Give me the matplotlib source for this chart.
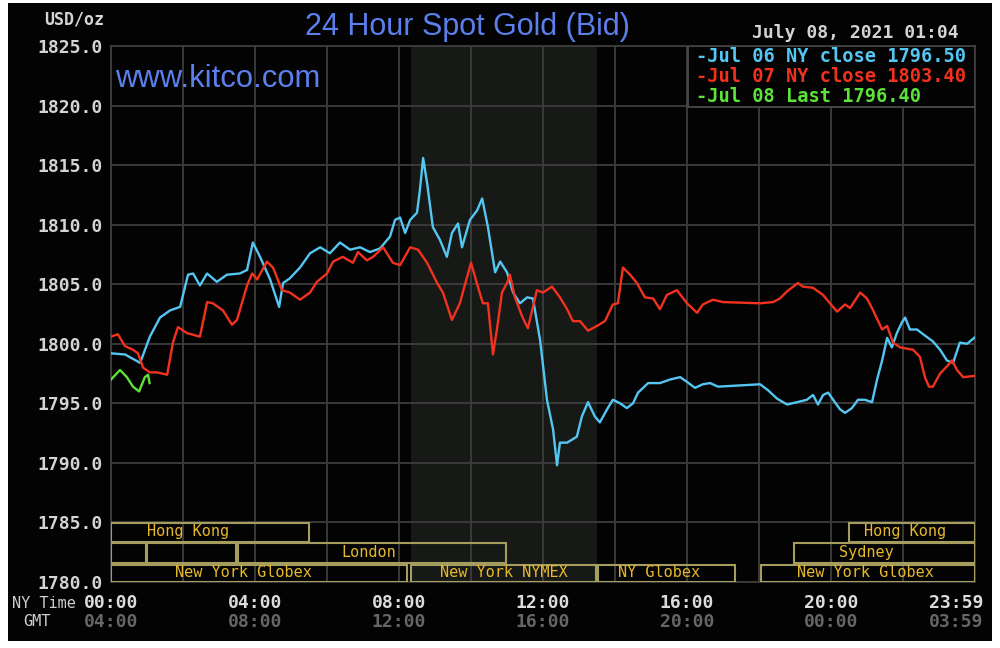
import matplotlib
matplotlib.use("Agg")
import matplotlib.pyplot as plt
from matplotlib.patches import Rectangle
from matplotlib.transforms import blended_transform_factory

# ---------------- data ----------------
jul06_hours = [0.0, 0.39, 0.81, 1.08, 1.36, 1.64, 1.92, 2.14, 2.28, 2.47, 2.67, 2.94, 3.22, 3.58,
               3.78, 3.94, 4.14, 4.42, 4.67, 4.78, 4.97, 5.25, 5.53, 5.81, 6.08, 6.36, 6.64, 6.92,
               7.19, 7.47, 7.75, 7.89, 8.03, 8.17, 8.31, 8.50, 8.58, 8.67, 8.78, 8.94, 9.14, 9.33,
               9.47, 9.64, 9.75, 9.97, 10.17, 10.31, 10.47, 10.67, 10.81, 11.0, 11.17, 11.36, 11.56,
               11.72, 11.92, 12.11, 12.28, 12.39, 12.47, 12.67, 12.94, 13.08, 13.25, 13.44, 13.58,
               13.78, 13.94, 14.14, 14.33, 14.50, 14.64, 14.92, 15.25, 15.53, 15.81, 16.0, 16.22,
               16.44, 16.64, 16.86, 18.03, 18.25, 18.5, 18.78, 19.06, 19.33, 19.5, 19.64, 19.78,
               19.92, 20.06, 20.25, 20.39, 20.58, 20.75, 20.94, 21.14, 21.28, 21.42, 21.56, 21.69,
               21.83, 21.97, 22.06, 22.19, 22.39, 22.56, 22.83, 23.03, 23.22, 23.39, 23.58, 23.78, 23.98]
jul06_values = [1799.2, 1799.1, 1798.4, 1800.6, 1802.2, 1802.8, 1803.1, 1805.8, 1805.9, 1804.9, 1805.9,
                1805.2, 1805.8, 1805.9, 1806.2, 1808.5, 1807.3, 1805.4, 1803.1, 1805.1, 1805.5, 1806.4,
                1807.6, 1808.1, 1807.6, 1808.5, 1807.9, 1808.1, 1807.7, 1808.0, 1809.0, 1810.4, 1810.6,
                1809.3, 1810.4, 1811.0, 1812.9, 1815.6, 1813.5, 1809.8, 1808.7, 1807.3, 1809.3, 1810.1,
                1808.1, 1810.4, 1811.2, 1812.2, 1809.8, 1806.0, 1806.9, 1806.0, 1804.3, 1803.4, 1803.9,
                1803.8, 1800.3, 1795.3, 1792.8, 1789.8, 1791.7, 1791.7, 1792.2, 1793.9, 1795.1, 1793.9,
                1793.4, 1794.5, 1795.3, 1795.0, 1794.6, 1795.0, 1795.9, 1796.7, 1796.7, 1797.0, 1797.2,
                1796.8, 1796.3, 1796.6, 1796.7, 1796.4, 1796.6, 1796.1, 1795.4, 1794.9, 1795.1, 1795.3,
                1795.7, 1794.9, 1795.7, 1795.9, 1795.3, 1794.5, 1794.2, 1794.6, 1795.3, 1795.3, 1795.1,
                1797.0, 1798.6, 1800.5, 1799.7, 1800.9, 1801.8, 1802.2, 1801.2, 1801.2, 1800.8, 1800.2,
                1799.5, 1798.6, 1798.4, 1800.1, 1800.0, 1800.5]

jul07_hours = [0.0, 0.19, 0.39, 0.61, 0.75, 0.89, 1.08, 1.28, 1.56, 1.72, 1.86, 2.11, 2.47, 2.67, 2.83,
               3.11, 3.36, 3.5, 3.78, 3.92, 4.06, 4.33, 4.5, 4.75, 4.97, 5.25, 5.53, 5.72, 6.0, 6.17,
               6.44, 6.72, 6.86, 7.11, 7.28, 7.56, 7.83, 8.03, 8.31, 8.53, 8.78, 9.06, 9.22, 9.47, 9.69,
               10.0, 10.19, 10.33, 10.47, 10.61, 10.72, 10.86, 11.0, 11.08, 11.22, 11.42, 11.58, 11.83,
               12.0, 12.25, 12.47, 12.67, 12.83, 13.03, 13.25, 13.5, 13.72, 13.94, 14.08, 14.22, 14.42,
               14.61, 14.83, 15.06, 15.25, 15.44, 15.72, 16.0, 16.28, 16.44, 16.72, 17.0, 18.03, 18.39,
               18.58, 18.78, 19.08, 19.22, 19.5, 19.78, 19.97, 20.17, 20.39, 20.53, 20.81, 21.0, 21.17,
               21.42, 21.56, 21.72, 21.92, 22.28, 22.47, 22.61, 22.72, 22.83, 23.03, 23.22, 23.36, 23.5,
               23.67, 23.98]
jul07_values = [1800.6, 1800.8, 1799.8, 1799.5, 1799.2, 1798.0, 1797.6, 1797.6, 1797.4, 1800.1, 1801.4,
                1800.9, 1800.6, 1803.5, 1803.4, 1802.8, 1801.6, 1802.0, 1804.9, 1805.9, 1805.4, 1806.9,
                1806.4, 1804.5, 1804.3, 1803.7, 1804.3, 1805.2, 1805.9, 1806.9, 1807.3, 1806.8, 1807.7,
                1807.0, 1807.3, 1808.1, 1806.8, 1806.6, 1808.1, 1807.9, 1806.8, 1805.1, 1804.3, 1802.0,
                1803.4, 1806.8, 1804.8, 1803.4, 1803.4, 1799.1, 1801.2, 1804.3, 1805.1, 1805.8, 1803.9,
                1802.3, 1801.3, 1804.5, 1804.3, 1804.8, 1803.9, 1802.9, 1801.9, 1801.9, 1801.1, 1801.5,
                1801.9, 1803.3, 1803.4, 1806.4, 1805.8, 1805.1, 1803.9, 1803.8, 1802.9, 1804.1, 1804.5,
                1803.4, 1802.6, 1803.3, 1803.7, 1803.5, 1803.4, 1803.5, 1803.8, 1804.4, 1805.1, 1804.8,
                1804.7, 1804.1, 1803.4, 1802.7, 1803.3, 1803.0, 1804.3, 1803.8, 1802.8, 1801.2, 1801.5,
                1800.1, 1799.7, 1799.5, 1798.9, 1797.2, 1796.4, 1796.4, 1797.5, 1798.1, 1798.6, 1797.8,
                1797.2, 1797.3]

jul08_hours = [0.0, 0.25, 0.44, 0.61, 0.78, 0.94, 1.03, 1.07]
jul08_values = [1797.0, 1797.8, 1797.2, 1796.4, 1796.0, 1797.2, 1797.4, 1796.7]

legend_labels = ["-Jul 06 NY close 1796.50", "-Jul 07 NY close 1803.40", "-Jul 08 Last 1796.40"]
ny_tick_labels = ["00:00", "04:00", "08:00", "12:00", "16:00", "20:00", "23:59"]
gmt_tick_labels = ["04:00", "08:00", "12:00", "16:00", "20:00", "00:00", "03:59"]
label_hours = [0, 4, 8, 12, 16, 20, 23.47]

# session boxes: (row, start hour, end hour, label, label hour)
sessions_row = [0, 0, 1, 1, 1, 1, 2, 2, 2, 2]
sessions_start = [0.0, 20.5, 0.0, 1.0, 3.53, 18.97, 0.0, 8.33, 13.53, 18.06]
sessions_end = [5.5, 24.0, 0.97, 3.47, 10.97, 24.0, 8.22, 13.47, 17.33, 24.0]
sessions_label = ["Hong Kong", "Hong Kong", "", "", "London", "Sydney",
                  "New York Globex", "New York NYMEX", "NY Globex", "New York Globex"]
sessions_label_hour = [2.14, 22.06, 0, 0, 7.17, 20.97, 3.67, 10.92, 15.22, 20.97]
row_bounds = [(1783.4, 1784.95), (1781.6, 1783.25), (1780.0, 1781.45)]

nymex_span = (8.33, 13.5)

# ---------------- figure ----------------
W, H = 1000, 648
fig = plt.figure(figsize=(10, 6.48), dpi=100, facecolor="white")
fig.patches.append(Rectangle((8 / W, 1 - 641 / H), 984 / W, 638 / H,
                             transform=fig.transFigure, facecolor="#030303",
                             edgecolor="none", zorder=-10))

L, R, T, B = 111, 975, 46, 582
ax = fig.add_axes([L / W, 1 - B / H, (R - L) / W, (B - T) / H])
ax.set_facecolor("#030303")
ax.set_xlim(0, 24)
ax.set_ylim(1780, 1825)

grid_c = "#3d3d3d"
ax.set_xticks(range(0, 25, 2))
ax.set_yticks(range(1780, 1826, 5))
ax.grid(True, color=grid_c, lw=1.3, zorder=1)
ax.set_axisbelow(True)
for s in ax.spines.values():
    s.set_color(grid_c)
    s.set_linewidth(1.3)
ax.tick_params(length=0, labelbottom=False, colors="#d6d6d6")
ax.set_yticklabels([f"{v:.1f}" for v in range(1780, 1826, 5)],
                   family="DejaVu Sans Mono", fontweight="bold", fontsize=13, color="#d4d4d4")
ax.tick_params(axis="y", pad=6)

ax.axvspan(*nymex_span, color="#161915", zorder=0.5, lw=0)

# session boxes
for r, s0, s1, lab, lh in zip(sessions_row, sessions_start, sessions_end,
                              sessions_label, sessions_label_hour):
    y0, y1 = row_bounds[r]
    ax.add_patch(Rectangle((s0, y0), s1 - s0, y1 - y0, facecolor="none",
                           edgecolor="#a59d5e", lw=1.5, zorder=3))
    if lab:
        ax.text(lh, (y0 + y1) / 2 + 0.05, lab, ha="center", va="center",
                family="DejaVu Sans Mono", fontsize=11, color="#e6b82e", zorder=4)

# series
ax.plot(jul06_hours, jul06_values, color="#55c6f2", lw=1.7, zorder=5)
ax.plot(jul07_hours, jul07_values, color="#f2321e", lw=1.7, zorder=6)
ax.plot(jul08_hours, jul08_values, color="#5ee23a", lw=1.7, zorder=7)

# legend box
lx0 = (688 - L) / (R - L)
ly0 = (B - 107) / (B - T)
ax.add_patch(Rectangle((lx0, ly0), 1 - lx0, 1 - ly0, transform=ax.transAxes,
                       facecolor="#030303", edgecolor="#4a4a4a", lw=1.3, zorder=8))
leg_colors = ["#55c6f2", "#f2321e", "#5ee23a"]
for i, (lab, c) in enumerate(zip(legend_labels, leg_colors)):
    fig.text(696 / W, 1 - (57 + 19.5 * i) / H, lab, ha="left", va="center",
             family="DejaVu Sans Mono", fontweight="bold", fontsize=13.4, color=c, zorder=10)

# x labels
tr = blended_transform_factory(ax.transData, fig.transFigure)
for h, a, b in zip(label_hours, ny_tick_labels, gmt_tick_labels):
    ax.text(h, 1 - 603 / H, a, transform=tr, ha="center", va="center",
            family="DejaVu Sans Mono", fontweight="bold", fontsize=13, color="#dcdcdc")
    ax.text(h, 1 - 622 / H, b, transform=tr, ha="center", va="center",
            family="DejaVu Sans Mono", fontweight="bold", fontsize=13, color="#666666")
fig.text(44 / W, 1 - 603 / H, "NY Time", ha="center", va="center",
         family="DejaVu Sans Mono", fontsize=11, color="#cfcfcf")
fig.text(37 / W, 1 - 622 / H, "GMT", ha="center", va="center",
         family="DejaVu Sans Mono", fontsize=11, color="#cfcfcf")

# titles
fig.text(104 / W, 1 - 20 / H, "USD/oz", ha="right", va="center",
         family="DejaVu Sans Mono", fontweight="bold", fontsize=12, color="#d4d4d4")
fig.text(467 / W, 1 - 27 / H, "24 Hour Spot Gold (Bid)", ha="center", va="center",
         family="Liberation Sans", fontsize=22, color="#5b7fec")
fig.text(115 / W, 1 - 79 / H, "www.kitco.com", ha="left", va="center",
         family="Liberation Sans", fontsize=22.3, color="#5b7fec", zorder=10)
fig.text(959 / W, 1 - 33 / H, "July 08, 2021 01:04", ha="right", va="center",
         family="DejaVu Sans Mono", fontweight="bold", fontsize=13, color="#d4d4d4")

fig.savefig("out.png", dpi=100, facecolor="white")
